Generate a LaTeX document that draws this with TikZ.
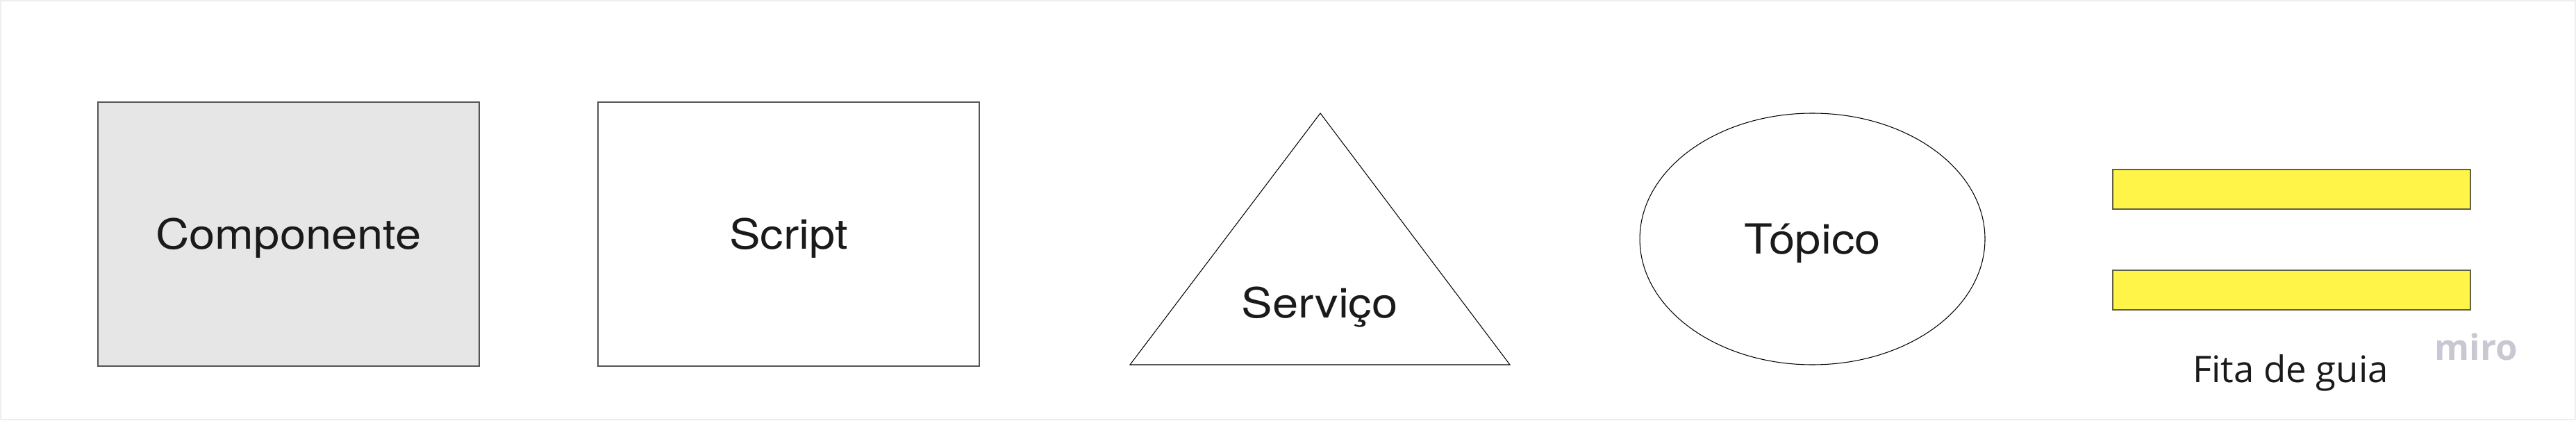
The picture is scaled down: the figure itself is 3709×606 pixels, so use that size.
\documentclass[tikz,border=0pt]{standalone}
\usepackage{fontspec}
\setmainfont{TeX Gyre Heros}[FakeStretch=1.12]
\newfontfamily\guiafont{Open Sans}
\newfontfamily\logofont{Open Sans}
\usepackage{tikz}
\usetikzlibrary{shapes.geometric, positioning}
\usepackage{xcolor}

\definecolor{caixacinza}{HTML}{E6E6E6}
\definecolor{bordacinza}{HTML}{555555}
\definecolor{fitaamarela}{HTML}{FFF447}
\definecolor{bordafita}{HTML}{5F5F45}
\definecolor{logocinza}{HTML}{C8C8D2}
\definecolor{textopreto}{HTML}{1A1A1A}
\definecolor{moldura}{HTML}{EEEEEE}

\newcommand{\rotulo}{\fontsize{17pt}{20pt}\selectfont}

\tikzstyle{caixa}    = [draw=bordacinza, line width=0.55pt, minimum width=54.9mm, minimum height=38mm, inner sep=0pt, text height=12.2pt, text depth=0pt, font=\rotulo, text=textopreto]
\tikzstyle{contorno} = [draw=black, line width=0.3pt]
\tikzstyle{texto}    = [font=\rotulo, text=textopreto, anchor=base, inner sep=0pt]
\tikzstyle{fita}     = [draw=bordafita, fill=fitaamarela, line width=0.5pt, minimum width=51.5mm, minimum height=5.7mm, inner sep=0pt]

\begin{document}
\begin{tikzpicture}[x=0.1mm, y=-0.1mm]

\useasboundingbox (0,0) rectangle (3709,606);
\draw[moldura, line width=0.4pt] (1,1) rectangle (3708,604);

% caixas
\node[caixa, fill=caixacinza] (componente) at (415.5,337) {Componente};
\node[caixa] (script) at (1135.5,337) {Script};

% triangulo
\coordinate (topo) at (1901,163);
\coordinate (baseesq) at (1627,525);
\coordinate (basedir) at (2174,525);
\draw[contorno] (topo) -- (basedir) -- (baseesq) -- cycle;
\node[texto] (servico) at (1900,457) {Serviço};

% elipse
\node[contorno, ellipse, minimum width=49.7mm, minimum height=36.2mm, inner sep=0pt, font=\rotulo, text=textopreto, text height=12.2pt, text depth=0pt] (topico) at (2609.5,344) {Tópico};

% fitas
\node[fita] (fita1) at (3299.5,272.5) {};
\node[fita, below=8.6mm of fita1] (fita2) {};
\node[texto, font=\guiafont\fontsize{15pt}{18pt}\selectfont] (legenda) at (3298,550) {Fita de guia};
\node[anchor=base, inner sep=0pt, text=logocinza, font=\logofont\bfseries\fontsize{14.5pt}{17pt}\selectfont] (miro) at (3565,518) {miro};

\end{tikzpicture}
\end{document}
